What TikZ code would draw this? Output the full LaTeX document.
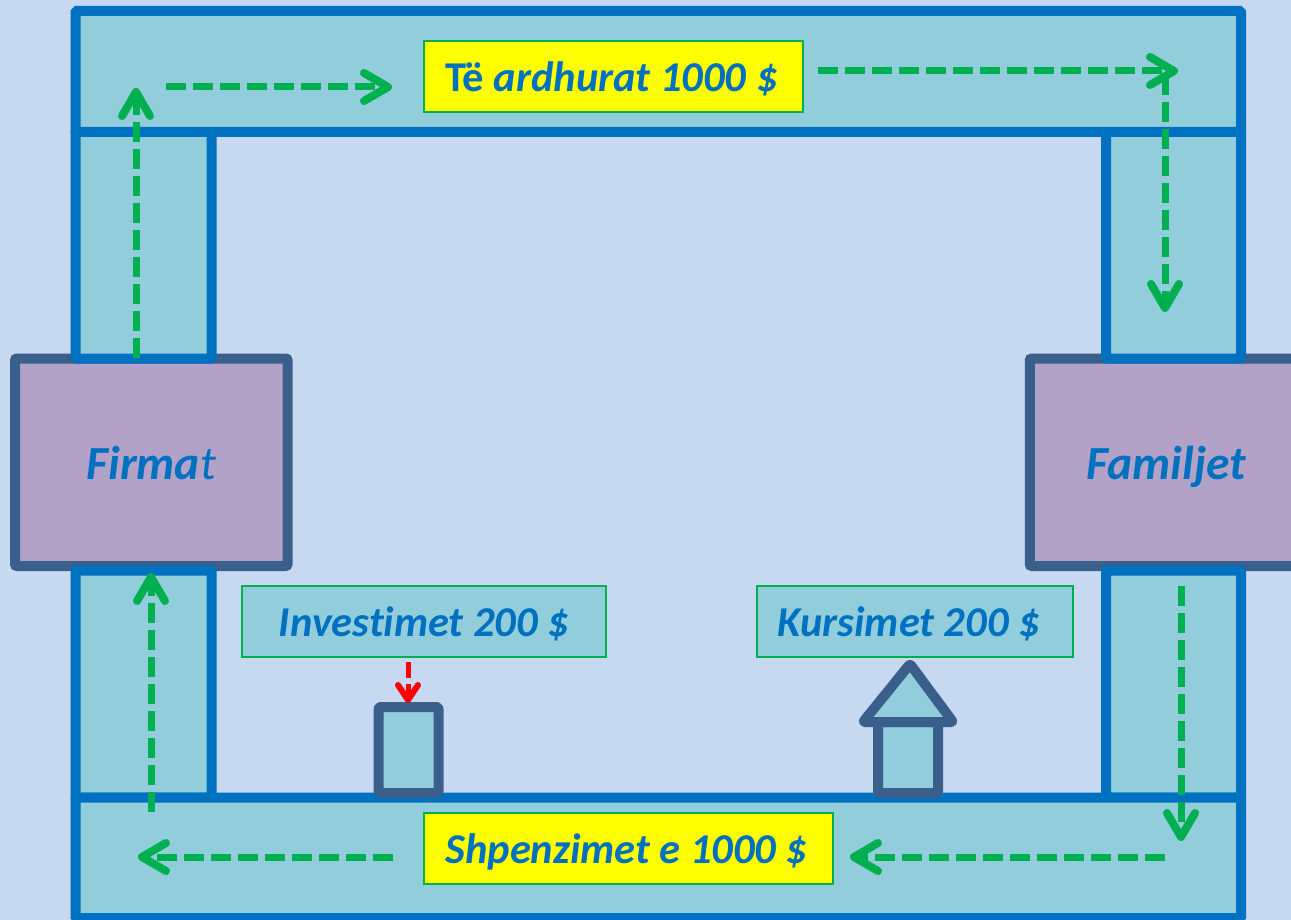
\documentclass[tikz,border=0pt]{standalone}
\usepackage{fontspec}
\setmainfont[Ligatures=NoCommon]{Carlito}
\usetikzlibrary{arrows.meta}
\definecolor{bgblue}{HTML}{C6D9F1}
\definecolor{barfill}{HTML}{92CDDC}
\definecolor{barline}{HTML}{0070C0}
\definecolor{boxline}{HTML}{3A5F8B}
\definecolor{boxfill}{HTML}{B3A2C7}
\definecolor{flowgreen}{HTML}{00B050}
\definecolor{labelyellow}{HTML}{FFFF00}
\definecolor{leakred}{HTML}{FF0000}
\tikzset{
  bar/.style={draw=barline, fill=barfill, line width=10pt, rounded corners=1.5pt},
  sector/.style={draw=boxline, fill=boxfill, line width=10pt, rounded corners=2pt, inner sep=0pt, minimum width=272.5pt, minimum height=207.5pt, text height=39pt, text depth=5pt, text=barline, font=\fontsize{47.5}{50}\selectfont\bfseries\itshape},
  smallbox/.style={draw=boxline, fill=barfill, line width=10pt, rounded corners=2pt, line join=round},
  label/.style={draw=flowgreen, line width=2pt, inner sep=0pt, minimum height=71pt, text height=35pt, text depth=5pt, text=barline, font=\fontsize{42.5}{45}\selectfont\bfseries\itshape},
  flow/.style={draw=flowgreen, line width=7pt, dash pattern=on 20pt off 7pt, -{Straight Barb[length=24pt,width=28pt,round,line width=8pt]}},
  leak/.style={draw=leakred, line width=5pt, dash pattern=on 16pt off 6pt, -{Straight Barb[length=15pt,width=20pt,round,line width=6pt]}}
}
\begin{document}
\begin{tikzpicture}[x=1pt,y=-1pt]
\useasboundingbox (0,0) rectangle (1291,920);
\clip (0,0) rectangle (1291,920);
\fill[bgblue] (0,0) rectangle (1291,920);

\node[sector] (firmat) at (151.25,462.25) {Firma{\mdseries t}};
\node[sector] (familjet) at (1166,462.25) {Familjet};

\draw[bar] (75.5,132) rectangle (211.5,358.5);
\draw[bar] (1106,132) rectangle (1241,358.5);
\draw[bar] (75.5,570.5) rectangle (211.5,797.5);
\draw[bar] (1106,570.5) rectangle (1241,797.5);
\draw[bar] (75.5,11) rectangle (1241,132);
\draw[bar] (75.5,797.5) rectangle (1241,918);

\node[label, fill=labelyellow, minimum width=379pt] (income) at (613,77) {{\upshape Të} ardhurat 1000 \$\rule{3pt}{0pt}};
\node[label, fill=labelyellow, minimum width=409pt] (spending) at (628,848) {Shpenzimet e 1000 \$\rule{3pt}{0pt}};
\node[label, fill=barfill, minimum width=364pt] (invest) at (424,621.5) {Investimet 200 \$};
\node[label, fill=barfill, minimum width=316pt] (saving) at (914.5,621.5) {Kursimet 200 \$\rule{12pt}{0pt}};

\draw[smallbox] (378.5,707) rectangle (438.5,793);
\draw[smallbox] (878,722) rectangle (938,793);
\draw[smallbox] (910,664) -- (953,722) -- (863,722) -- cycle;

\coordinate (f1) at (136,358);
\coordinate (f2) at (136,88);
\coordinate (f3) at (166,87);
\coordinate (f4) at (392,87);
\coordinate (f5) at (818,71);
\coordinate (f6) at (1178,71);
\coordinate (f7) at (1165,75);
\coordinate (f8) at (1165,312);
\coordinate (f9) at (1181,586);
\coordinate (f10) at (1181,841);
\coordinate (f11) at (1165,857);
\coordinate (f12) at (850,857);
\coordinate (f13) at (393,857);
\coordinate (f14) at (138,857);
\coordinate (f15) at (151,812);
\coordinate (f16) at (151,573);
\coordinate (f17) at (408,662);
\coordinate (f18) at (408,703);

\draw[flow] (f1) -- (f2);
\draw[flow] (f3) -- (f4);
\draw[flow] (f5) -- (f6);
\draw[flow] (f7) -- (f8);
\draw[flow] (f9) -- (f10);
\draw[flow] (f11) -- (f12);
\draw[flow] (f13) -- (f14);
\draw[flow] (f15) -- (f16);
\draw[leak] (f17) -- (f18);
\end{tikzpicture}
\end{document}
